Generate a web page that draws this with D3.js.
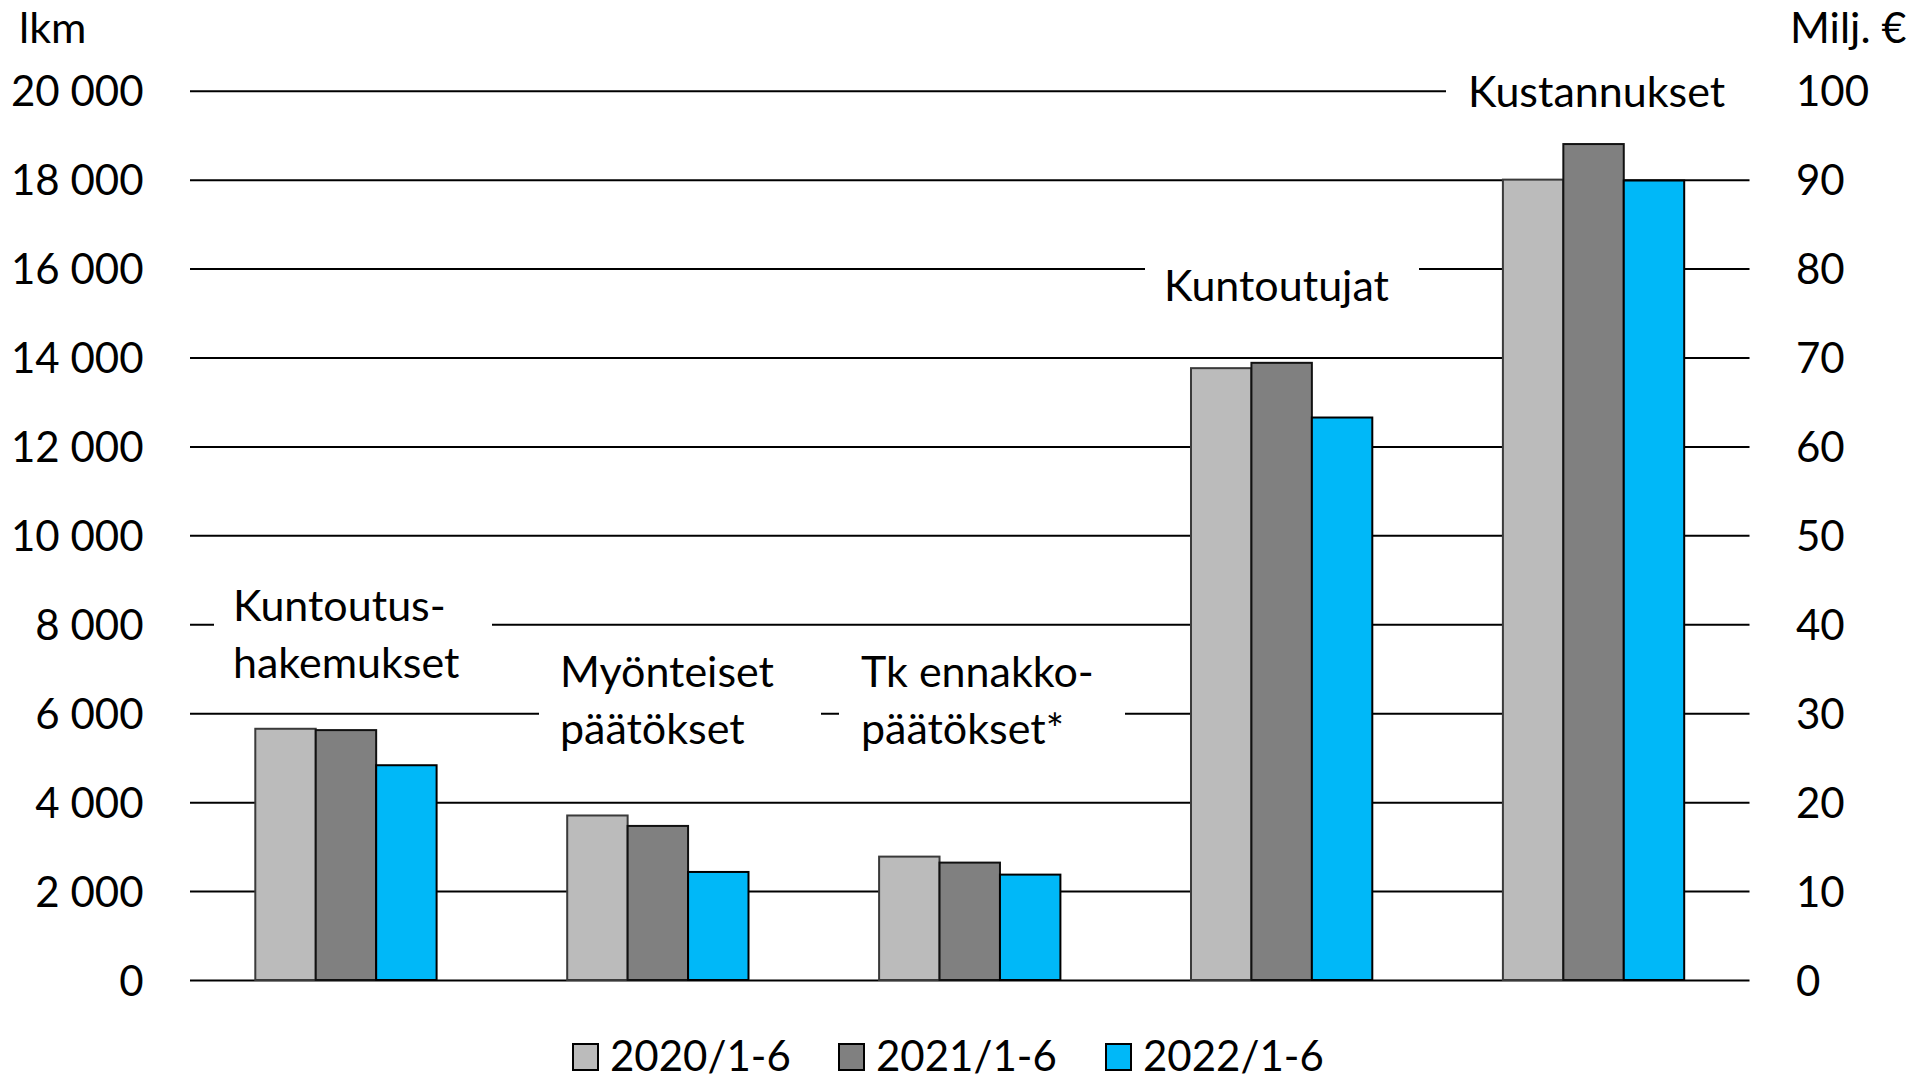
<!DOCTYPE html>
<html>
<head>
<meta charset="utf-8">
<script src="https://cdn.jsdelivr.net/npm/d3@7"></script>
<style>
  body { margin: 0; background: #fff; }
  svg text { font-family: Lato, "Open Sans", sans-serif; fill: #000; }
</style>
</head>
<body>
<div id="chart"></div>
<script>
// kategoriat ja sarjat
var categories = ["Kuntoutushakemukset", "Myönteiset päätökset", "Tk ennakkopäätökset*", "Kuntoutujat", "Kustannukset"];
var catLabels = [["Kuntoutus-", "hakemukset"], ["Myönteiset", "päätökset"], ["Tk ennakko-", "päätökset*"], ["Kuntoutujat"], ["Kustannukset"]];
var series = ["2020/1-6", "2021/1-6", "2022/1-6"];
// lkm (neljä ensimmäistä), Milj. € (viimeinen)
var v2020 = [5650, 3700, 2775, 13760, 90.0];
var v2021 = [5620, 3465, 2640, 13880, 94.0];
var v2022 = [4830, 2430, 2370, 12650, 89.9];
var leftTicks = [0, 2000, 4000, 6000, 8000, 10000, 12000, 14000, 16000, 18000, 20000];
var rightTicks = [0, 10, 20, 30, 40, 50, 60, 70, 80, 90, 100];

var width = 1921, height = 1079;
var plot = {left: 190, right: 1749.5, top: 90.7, bottom: 980};
// tekstilaatikoiden paikat: teksti (x, perusviiva) ja valkoisen laatikon reunat
var labelPos = [
  {x: 233, y: 621, boxL: 214, boxR: 492},
  {x: 560, y: 687, boxL: 539, boxR: 821},
  {x: 861, y: 687, boxL: 839, boxR: 1125},
  {x: 1164, y: 301, boxL: 1145, boxR: 1419},
  {x: 1468, y: 107, boxL: 1446, boxR: 1751}
];

var colors = d3.scaleOrdinal().domain(series).range(["#bbbbbb", "#808080", "#00b8f8"]);
var strokes = d3.scaleOrdinal().domain(series).range(["#3a3a3a", "#111", "#000"]);

var svg = d3.select("#chart").append("svg")
    .attr("width", width)
    .attr("height", height);

var x0 = d3.scaleBand()
    .domain(categories)
    .range([plot.left, plot.right])
    .paddingInner(0).paddingOuter(0);

var x1 = d3.scaleBand()
    .domain(series)
    .range([65.3, 65.3 + 181.3]);

var yLeft = d3.scaleLinear().domain([0, 20000]).range([plot.bottom, plot.top]);
var yRight = d3.scaleLinear().domain([0, 100]).range([plot.bottom, plot.top]);

var fmt = function(d) { return d3.format(",")(d).replace(",", " "); };

// vasen akseli + ruudukko
var gLeft = svg.append("g")
    .attr("transform", "translate(" + plot.left + ",0)")
    .call(d3.axisLeft(yLeft).tickValues(leftTicks).tickFormat(fmt)
      .tickSizeInner(-(plot.right - plot.left)).tickSizeOuter(0).tickPadding(46.5));
gLeft.select(".domain").remove();
gLeft.selectAll(".tick line").attr("stroke", "#000").attr("stroke-width", 2);
gLeft.selectAll(".tick text").attr("font-size", 42).attr("dy", "0.36em");

var gRight = svg.append("g")
    .attr("transform", "translate(" + plot.right + ",0)")
    .call(d3.axisRight(yRight).tickValues(rightTicks).tickSize(0).tickPadding(46.5));
gRight.select(".domain").remove();
gRight.selectAll(".tick text").attr("font-size", 42).attr("dy", "0.36em");

svg.append("text").attr("x", 19).attr("y", 43).attr("font-size", 43).text("lkm");
svg.append("text").attr("x", 1790).attr("y", 43).attr("font-size", 43).text("Milj. €");

// tekstilaatikot
var labels = svg.append("g");
catLabels.forEach(function(lines, i) {
  var g = labels.append("g");
  var t = g.append("text").attr("font-size", 43);
  lines.forEach(function(s, j) {
    t.append("tspan").attr("x", labelPos[i].x).attr("y", labelPos[i].y + j * 57).text(s);
  });
  var bb = t.node().getBBox();
  g.insert("rect", "text")
    .attr("x", labelPos[i].boxL).attr("y", bb.y - 6)
    .attr("width", labelPos[i].boxR - labelPos[i].boxL).attr("height", bb.height + 12)
    .attr("fill", "#fff");
});

// pylväät
var rows = categories.map(function(c, i) {
  return {cat: c, i: i, vals: [v2020[i], v2021[i], v2022[i]]};
});

svg.append("g")
  .selectAll("g")
  .data(rows)
  .enter().append("g")
    .attr("transform", function(d) { return "translate(" + x0(d.cat) + ",0)"; })
  .selectAll("rect")
  .data(function(d) {
    var y = d.i === 4 ? yRight : yLeft;
    return series.map(function(s, k) { return {s: s, v: d.vals[k], y: y}; });
  })
  .enter().append("rect")
    .attr("x", function(d) { return x1(d.s); })
    .attr("y", function(d) { return d.y(d.v); })
    .attr("width", x1.bandwidth())
    .attr("height", function(d) { return plot.bottom - d.y(d.v); })
    .attr("fill", function(d) { return colors(d.s); })
    .attr("stroke", function(d) { return strokes(d.s); })
    .attr("stroke-width", 2);

// selite
var legendX = [573, 839, 1106];
var legend = svg.append("g")
  .selectAll("g")
  .data(series)
  .enter().append("g")
    .attr("transform", function(d, i) { return "translate(" + legendX[i] + ",1057)"; });

legend.append("rect")
    .attr("x", 0).attr("y", -13)
    .attr("width", 25).attr("height", 26)
    .attr("fill", colors)
    .attr("stroke", "#000").attr("stroke-width", 2);

legend.append("text")
    .attr("x", 37)
    .attr("dy", "0.34em")
    .attr("font-size", 42)
    .text(function(d) { return d; });
</script>
</body>
</html>
